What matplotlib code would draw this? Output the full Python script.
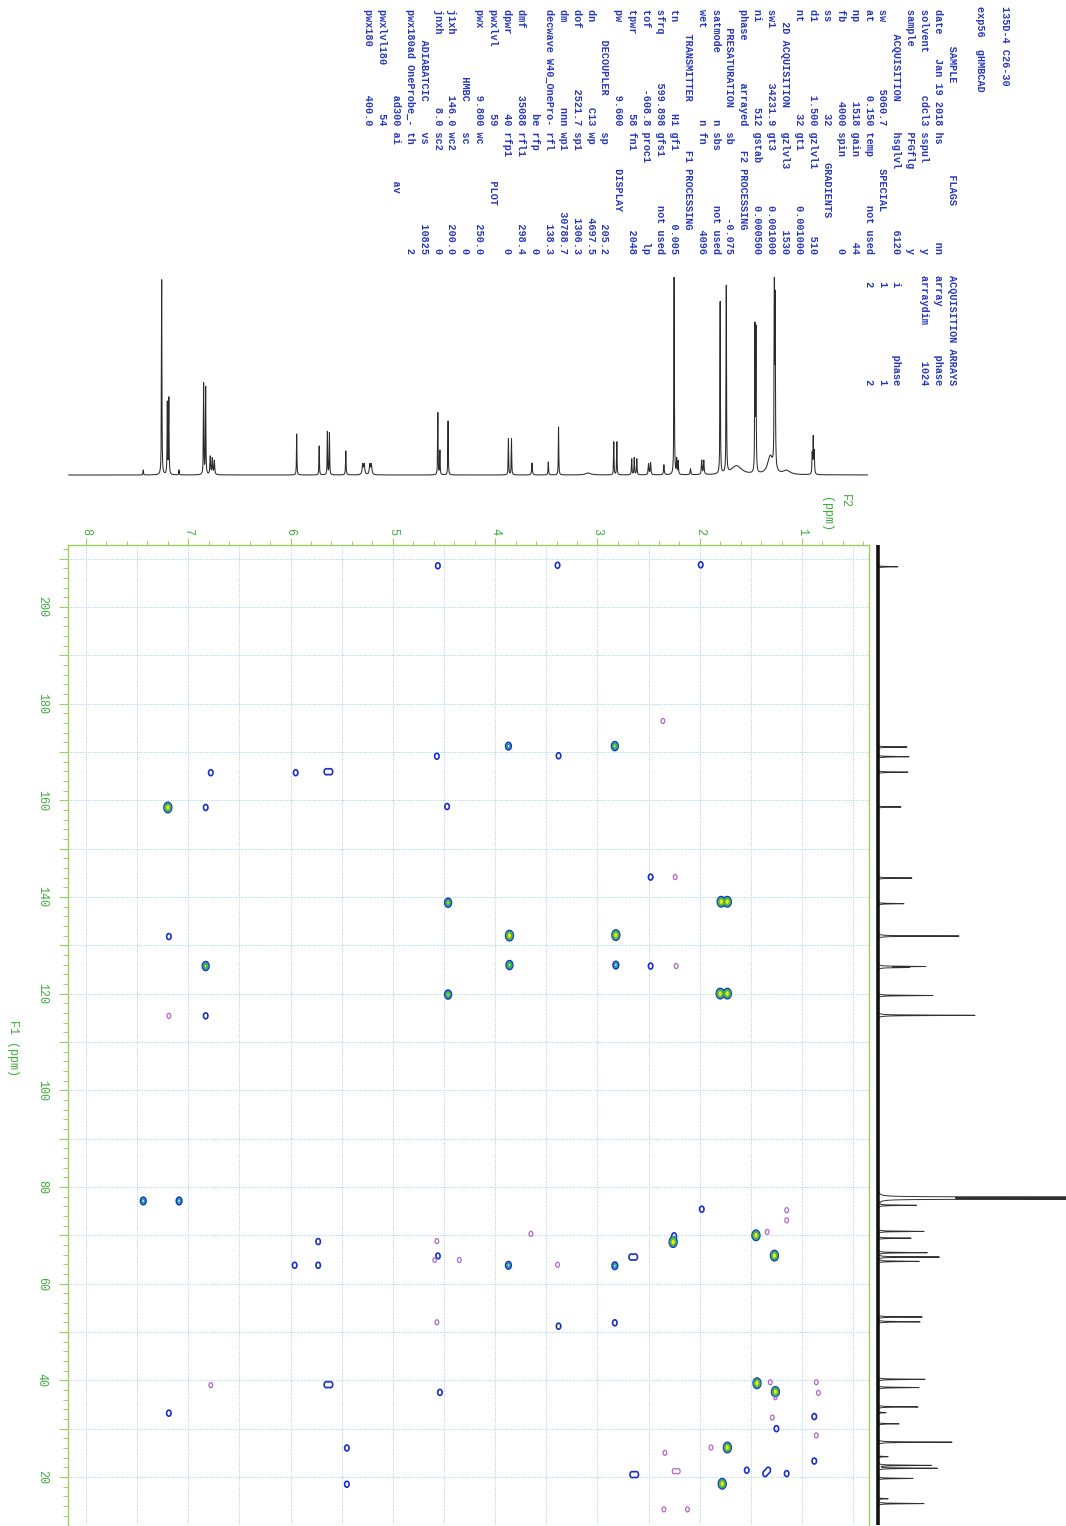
import numpy as np
import matplotlib.pyplot as plt
from matplotlib.ticker import MultipleLocator, FuncFormatter

plt.rcParams['font.family'] = ['Liberation Mono', 'DejaVu Sans Mono']

W, H = 1066, 1526

# axis windows (ppm)
F2_LIM = (8.176, 0.345)
F1_LIM = (10.07, 212.8)

# 1H projection: shift, height, half width
H_SHIFT = [7.44, 7.26, 7.205, 7.19, 7.09, 6.85, 6.83, 6.785, 6.765, 6.745,
           5.94, 5.72, 5.64, 5.62, 5.46, 5.295, 5.28, 5.225, 5.21,
           4.56, 4.54, 4.46, 3.87, 3.84, 3.64, 3.48, 3.38, 3.09,
           2.84, 2.81, 2.665, 2.64, 2.615, 2.50, 2.48, 2.35, 2.25, 2.225, 2.21,
           2.09, 1.98, 1.96, 1.80, 1.74, 1.64, 1.46, 1.45, 1.31, 1.27, 1.262,
           1.15, 0.90, 0.89, 0.88]
H_HEIGHT = [5, 195, 72, 76, 5, 91, 87, 18, 16, 14,
            41, 29, 43, 42, 24, 10, 10, 10, 10,
            62, 24, 54, 36, 36, 12, 13, 48, 2,
            33, 33, 16, 17, 16, 11, 12, 10, 215, 15, 13,
            6, 14, 14, 172, 187, 9, 143, 140, 18, 215, 160,
            4, 20, 36, 22]
H_HWHM = [0.0025, 0.0025, 0.0025, 0.0025, 0.0025, 0.0025, 0.0025, 0.004, 0.004, 0.004,
          0.0025, 0.0025, 0.0025, 0.0025, 0.003, 0.006, 0.006, 0.006, 0.006,
          0.0025, 0.0025, 0.0025, 0.0025, 0.0025, 0.004, 0.003, 0.0025, 0.03,
          0.0025, 0.0025, 0.003, 0.003, 0.003, 0.004, 0.004, 0.004, 0.0025, 0.003, 0.003,
          0.004, 0.004, 0.004, 0.0025, 0.0025, 0.06, 0.0025, 0.0025, 0.03, 0.0025, 0.0025,
          0.04, 0.003, 0.003, 0.003]

# 13C projection: shift, height
C_SHIFT = [208.3, 171.0, 169.0, 165.8, 158.6, 143.9, 138.6, 131.9, 125.6, 125.4,
           119.6, 115.5, 77.9, 77.7, 77.5, 76.2, 70.8, 69.4, 66.4, 65.5, 64.6,
           53.1, 52.1, 40.2, 38.5, 34.5, 33.3, 31.0, 27.2, 24.2, 22.4, 21.8,
           19.7, 15.5, 14.5]
C_HEIGHT = [20, 29, 31, 30, 23, 34, 26, 81, 46, 29,
            55, 97, 182, 182, 182, 38, 46, 33, 49, 61, 41,
            44, 42, 47, 41, 40, 8, 21, 74, 10, 53, 59,
            35, 10, 46]

# HMBC cross peaks: F2 (1H), F1 (13C), contour class
XP_H = [4.56, 3.39, 1.99,
        2.36, 3.87, 2.83, 4.57, 3.38, 6.78, 5.95, 5.65, 5.61,
        7.20, 6.83, 4.47, 2.48, 2.24, 1.79, 1.73, 4.46,
        7.19, 3.86, 2.82, 6.83, 3.86, 2.82, 2.48, 2.23,
        4.46, 1.80, 1.73, 7.19, 6.83,
        7.44, 7.09, 1.98, 1.15, 1.15, 1.34, 2.25, 2.26, 1.45, 1.27,
        2.67, 2.63, 2.83, 2.83, 1.44, 1.31, 1.26, 1.26, 0.86, 0.84,
        1.29, 0.88, 1.25, 0.86, 2.34, 1.89, 1.73, 0.88,
        2.66, 2.62, 2.25, 2.21, 1.54, 1.33, 1.36, 1.15, 1.78, 2.35, 2.12,
        5.73, 5.96, 5.73, 4.57, 4.56, 4.59, 4.35, 3.87, 3.65, 3.39,
        4.57, 3.38, 6.78, 5.65, 5.61, 4.54, 7.19, 5.45, 5.45]
XP_C = [208.5, 208.6, 208.7,
        176.4, 171.2, 171.2, 169.1, 169.2, 165.7, 165.7, 165.9, 165.9,
        158.5, 158.5, 158.7, 144.1, 144.1, 139.0, 139.0, 138.8,
        131.8, 132.0, 132.1, 125.7, 125.9, 125.9, 125.7, 125.7,
        119.8, 120.0, 120.0, 115.4, 115.4,
        77.1, 77.1, 75.4, 75.2, 73.1, 70.7, 69.9, 68.6, 70.0, 65.8,
        65.5, 65.5, 63.7, 51.9, 39.4, 39.6, 37.6, 36.5, 39.6, 37.4,
        32.3, 32.5, 30.0, 28.6, 25.0, 26.1, 26.1, 23.3,
        20.5, 20.5, 21.2, 21.2, 21.4, 21.4, 20.7, 20.7, 18.6, 13.3, 13.3,
        68.7, 63.8, 63.8, 68.8, 65.7, 64.9, 64.9, 63.8, 70.3, 63.9,
        52.0, 51.2, 39.0, 39.1, 39.1, 37.5, 33.2, 26.0, 18.5]
XP_KIND = ['b', 'b', 'b',
           'p', 'c', 'g', 'b', 'b', 'b', 'b', 'b', 'b',
           'y', 'b', 'b', 'b', 'p', 'y', 'y', 'g',
           'b', 'y', 'y', 'g', 'g', 'c', 'b', 'p',
           'g', 'y', 'y', 'p', 'b',
           'c', 'c', 'b', 'p', 'p', 'p', 'b', 'y', 'y', 'y',
           'b', 'b', 'c', 'b', 'y', 'p', 'y', 'p', 'p', 'p',
           'p', 'b', 'b', 'p', 'p', 'p', 'y', 'b',
           'b', 'b', 'p', 'p', 'b', 'b', 'b', 'b', 'y', 'p', 'p',
           'b', 'b', 'b', 'p', 'b', 'p', 'p', 'c', 'p', 'p',
           'p', 'b', 'p', 'b', 'b', 'b', 'b', 'b', 'b']
KIND_AMP = {'p': -0.6, 'b': 0.8, 'c': 1.4, 'g': 2.6, 'y': 5.5}

# parameter listing (block 1, block 2); value None means a section title
PARAM_ROWS = [
    ("date", "Jan 19 2018", "hs", "nn"),
    ("solvent", "cdcl3", "sspul", "y"),
    ("sample", "", "PFGflg", "y"),
    ("    ACQUISITION", None, "hsglvl", "6120"),
    ("sw", "5060.7", "      SPECIAL", None),
    ("at", "0.150", "temp", "not used"),
    ("np", "1518", "gain", "44"),
    ("fb", "4000", "spin", "0"),
    ("ss", "32", "     GRADIENTS", None),
    ("d1", "1.500", "gzlvl1", "510"),
    ("nt", "32", "gt1", "0.001000"),
    ("  2D ACQUISITION", None, "gzlvl3", "1530"),
    ("sw1", "34231.9", "gt3", "0.001000"),
    ("ni", "512", "gstab", "0.000500"),
    ("phase", "arrayed", "   F2 PROCESSING", None),
    ("   PRESATURATION", None, "sb", "-0.075"),
    ("satmode", "n", "sbs", "not used"),
    ("wet", "n", "fn", "4096"),
    ("    TRANSMITTER", None, "   F1 PROCESSING", None),
    ("tn", "H1", "gf1", "0.005"),
    ("sfrq", "599.898", "gfs1", "not used"),
    ("tof", "-608.8", "proc1", "lp"),
    ("tpwr", "58", "fn1", "2048"),
    ("pw", "9.600", "      DISPLAY", None),
    ("     DECOUPLER", None, "sp", "205.2"),
    ("dn", "C13", "wp", "4697.5"),
    ("dof", "2521.7", "sp1", "1306.3"),
    ("dm", "nnn", "wp1", "30788.7"),
    ("decwave", "W40_OnePro-", "rfl", "138.3"),
    ("", "be", "rfp", "0"),
    ("dmf", "35088", "rfl1", "298.4"),
    ("dpwr", "40", "rfp1", "0"),
    ("pwxlvl", "59", "        PLOT", None),
    ("pwx", "9.800", "wc", "250.0"),
    ("           HMBC", None, "sc", "0"),
    ("j1xh", "146.0", "wc2", "200.0"),
    ("jnxh", "8.0", "sc2", "0"),
    ("     ADIABATCIC", None, "vs", "10825"),
    ("pwx180ad", "OneProbe_-", "th", "2"),
    ("", "ad300", "ai      av", None),
    ("pwxlvl180", "54", "", None),
    ("pwx180", "400.0", "", None),
]
ARRAY_ROWS = ["ACQUISITION ARRAYS", "array        phase", "arraydim      1024", "",
              " i           phase", " 1               1", " 2               2"]

BLUE_TXT = '#2636bd'
GREEN = '#3cae3a'
SPINE = '#9ccf62'
GRID = '#9dd0e8'


def box(x0, y0, x1, y1):
    return [x0 / W, 1 - y1 / H, (x1 - x0) / W, (y1 - y0) / H]


def at(x, y):
    return x / W, 1 - y / H


def field(label, value, width):
    if value is None:
        return label.ljust(width)
    return label + value.rjust(width - len(label))


fig = plt.figure(figsize=(W / 100, H / 100), dpi=100)

# ---- parameter text, printed sideways ----
txt_kw = dict(rotation=-90, ha='center', va='top', fontsize=7.3,
              fontweight='bold', color=BLUE_TXT)
fig.text(*at(1005, 6), "135D-4 C26-30", **txt_kw)
fig.text(*at(980, 6), "exp56  gHMBCAD", **txt_kw)
fig.text(*at(952, 9), field("      SAMPLE", None, 19) + " " + "       FLAGS", **txt_kw)
for i, (l1, v1, l2, v2) in enumerate(PARAM_ROWS):
    line = field(l1, v1, 19) + " " + field(l2, v2, 20)
    fig.text(*at(938 - 13.9 * i, 9), line.rstrip(), **txt_kw)
for i, line in enumerate(ARRAY_ROWS):
    if line:
        fig.text(*at(952 - 13.9 * i, 275), line, **txt_kw)

# ---- 2D HMBC map ----
ax = fig.add_axes(box(68, 545, 869, 1525))
ax.set_xlim(*F2_LIM)
ax.set_ylim(*F1_LIM)

for v in np.arange(0.5, 8.1, 0.5):
    ax.axvline(v, color=GRID, lw=0.7, ls=(0, (1, 1.5)), zorder=0)
for v in np.arange(20, 211, 10):
    ax.axhline(v, color=GRID, lw=0.7, ls=(0, (1, 1.5)), zorder=0)

f2 = np.arange(F2_LIM[1], F2_LIM[0], 0.004)
f1 = np.arange(F1_LIM[0], F1_LIM[1], 0.08)
amp = np.array([KIND_AMP[k] for k in XP_KIND])
gx = np.exp(-0.5 * ((f2[None, :] - np.array(XP_H)[:, None]) / 0.0155) ** 2)
gy = np.exp(-0.5 * ((f1[None, :] - np.array(XP_C)[:, None]) / 0.44) ** 2)
z = (gy * amp[:, None]).T @ gx

ax.contourf(f2, f1, z, levels=[3.0, 100], colors=['#eee81c'], zorder=2)
ax.contour(f2, f1, z, levels=[0.3, 0.9, 1.8],
           colors=['#1a2ec8', '#139c9c', '#5cb82c'], linewidths=1.2,
           linestyles='solid', zorder=3)
ax.contour(f2, f1, z, levels=[-0.3], colors=['#b066c8'], linewidths=0.9,
           linestyles='solid', zorder=3)

ax.xaxis.tick_top()
ax.xaxis.set_major_locator(MultipleLocator(1))
ax.xaxis.set_minor_locator(MultipleLocator(0.2))
ax.xaxis.set_major_formatter(FuncFormatter(lambda v, p: f"{v:.0f}"))
ax.yaxis.set_major_locator(MultipleLocator(10))
ax.yaxis.set_minor_locator(MultipleLocator(2))
ax.yaxis.set_major_formatter(
    FuncFormatter(lambda v, p: f"{v:.0f}" if round(v) % 20 == 0 else ""))
ax.tick_params(axis='x', which='major', direction='out', length=5, width=0.8,
               color=SPINE, labelcolor=GREEN, labelsize=8.5, pad=2.5,
               labelrotation=-90, top=True, bottom=False)
ax.tick_params(axis='x', which='minor', direction='out', length=3, width=0.7,
               color=SPINE, top=True, bottom=False)
ax.tick_params(axis='y', which='major', direction='out', length=6.5, width=0.8,
               color=SPINE, labelcolor=GREEN, labelsize=8.5, pad=8,
               labelrotation=-90, left=True, right=False)
ax.tick_params(axis='y', which='minor', direction='out', length=3.5, width=0.7,
               color=SPINE, left=True, right=False)
for lbl in ax.get_yticklabels():
    lbl.set_verticalalignment('center')
for side in ('top', 'left', 'right'):
    ax.spines[side].set_color(SPINE)
    ax.spines[side].set_linewidth(1.0)
ax.spines['bottom'].set_visible(False)

fig.text(*at(845, 494), "F2", rotation=-90, ha='center', va='top',
         fontsize=8.5, color=GREEN)
fig.text(*at(826, 497), "(ppm)", rotation=-90, ha='center', va='top',
         fontsize=8.5, color=GREEN)
fig.text(*at(13, 1048), "F1 (ppm)", rotation=-90, ha='center', va='center',
         fontsize=8.5, color=GREEN)

# ---- 1H projection on top ----
ax1 = fig.add_axes(box(68, 277, 869, 480))
hx = np.arange(0.36, 8.17, 0.0004)
hy = np.zeros_like(hx)
for s, h, w in zip(H_SHIFT, H_HEIGHT, H_HWHM):
    hy += h / (1 + ((hx - s) / w) ** 2)
ax1.plot(hx, hy, color='#2b2b2b', lw=0.75)
ax1.set_xlim(*F2_LIM)
ax1.set_ylim(-5, 198)
ax1.axis('off')

# ---- 13C projection on the side ----
ax2 = fig.add_axes(box(872, 545, 1066, 1525))
cy = np.arange(F1_LIM[0], F1_LIM[1], 0.01)
cx = np.zeros_like(cy)
for s, h in zip(C_SHIFT, C_HEIGHT):
    cx += h / (1 + ((cy - s) / 0.05) ** 2)
ax2.plot(cx, cy, color='#303030', lw=0.7)
ax2.axvline(0, color='#111111', lw=2.6)
ax2.set_xlim(-6, 188)
ax2.set_ylim(*F1_LIM)
ax2.axis('off')

fig.savefig('out.png', dpi=100)
